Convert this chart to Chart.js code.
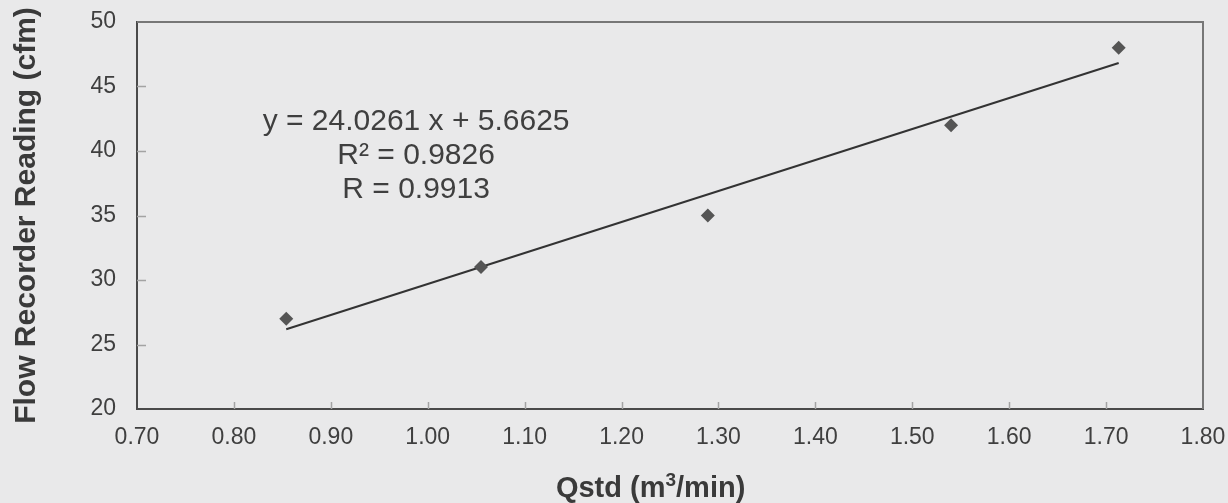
<!DOCTYPE html>
<html>
<head>
<meta charset="utf-8">
<script src="https://cdn.jsdelivr.net/npm/chart.js@4.4.1/dist/chart.umd.min.js"></script>
<style>
    html, body { margin: 0; padding: 0; background: #e9e9ea; }
    canvas { display: block; }
</style>
</head>
<body>
<canvas id="chart" width="1228" height="503"></canvas>
<script>
const qstd = [0.854, 1.055, 1.289, 1.540, 1.713];
const flowReading = [27, 31, 35, 42, 48];

// 近似直線の両端
const trendX = [0.854, 1.713];
const trendY = [26.18, 46.82];

// 目盛り
const xTicks = [0.70, 0.80, 0.90, 1.00, 1.10, 1.20, 1.30, 1.40, 1.50, 1.60, 1.70, 1.80];
const yTicks = [20, 25, 30, 35, 40, 45, 50];

// 回帰式のテキスト
const equationLines = ['y = 24.0261 x + 5.6625', 'R² = 0.9826', 'R = 0.9913'];

const FONT = '"Liberation Sans", Arial, Helvetica, sans-serif';
const TEXT_COLOR = '#3f3f3f';

// 背景を塗る
const backgroundPlugin = {
    id: 'background',
    beforeDraw(chart) {
        const ctx = chart.ctx;
        ctx.save();
        ctx.fillStyle = '#e9e9ea';
        ctx.fillRect(0, 0, chart.width, chart.height);
        ctx.restore();
    }
};

// 上と右の枠線、内側の目盛り線
const framePlugin = {
    id: 'frame',
    beforeDatasetsDraw(chart) {
        const { ctx, chartArea: a, scales } = chart;
        ctx.save();
        ctx.strokeStyle = '#a3a3a3';
        ctx.lineWidth = 1.5;
        xTicks.slice(1, -1).forEach(v => {
            const px = Math.round(scales.x.getPixelForValue(v)) + 0.5;
            ctx.beginPath();
            ctx.moveTo(px, a.bottom);
            ctx.lineTo(px, a.bottom - 7);
            ctx.stroke();
        });
        yTicks.slice(1, -1).forEach(v => {
            const py = Math.round(scales.y.getPixelForValue(v)) + 0.5;
            ctx.beginPath();
            ctx.moveTo(a.left, py);
            ctx.lineTo(a.left + 9, py);
            ctx.stroke();
        });
        ctx.strokeStyle = '#777777';
        ctx.lineWidth = 2;
        ctx.beginPath();
        ctx.moveTo(a.left, a.top);
        ctx.lineTo(a.right, a.top);
        ctx.lineTo(a.right, a.bottom);
        ctx.stroke();
        ctx.restore();
    }
};

// 回帰式とX軸タイトル（上付き文字）
const textPlugin = {
    id: 'texts',
    afterDraw(chart) {
        const { ctx, scales } = chart;
        ctx.save();
        ctx.fillStyle = TEXT_COLOR;
        ctx.font = `30px ${FONT}`;
        ctx.textAlign = 'center';
        ctx.textBaseline = 'alphabetic';
        const cx = scales.x.getPixelForValue(0.988);
        const baseY = scales.y.getPixelForValue(41.63);
        equationLines.forEach((line, i) => {
            ctx.fillText(line, cx, baseY + i * 34);
        });

        // Qstd (m³/min)
        const parts = [
            { t: 'Qstd (m', size: 29, rise: 0 },
            { t: '3', size: 19, rise: 11 },
            { t: '/min)', size: 29, rise: 0 }
        ];
        let total = 0;
        parts.forEach(p => {
            ctx.font = `bold ${p.size}px ${FONT}`;
            p.w = ctx.measureText(p.t).width;
            total += p.w;
        });
        let x = scales.x.getPixelForValue(1.230) - total / 2;
        const titleBase = 497;
        ctx.textAlign = 'left';
        ctx.fillStyle = '#3a3a3a';
        parts.forEach(p => {
            ctx.font = `bold ${p.size}px ${FONT}`;
            ctx.fillText(p.t, x, titleBase - p.rise);
            x += p.w;
        });
        ctx.restore();
    }
};

const ctx = document.getElementById('chart').getContext('2d');
new Chart(ctx, {
    type: 'scatter',
    data: {
        datasets: [
            {
                label: 'Flow Recorder Reading',
                data: qstd.map((q, i) => ({ x: q, y: flowReading[i] })),
                pointStyle: 'rectRot',
                pointRadius: 7,
                pointHoverRadius: 7,
                backgroundColor: '#555555',
                borderColor: '#555555',
                borderWidth: 0,
                order: 1
            },
            {
                label: 'Linear',
                type: 'line',
                data: trendX.map((q, i) => ({ x: q, y: trendY[i] })),
                borderColor: '#333333',
                borderWidth: 2,
                pointRadius: 0,
                fill: false,
                tension: 0,
                order: 2
            }
        ]
    },
    options: {
        responsive: false,
        animation: false,
        devicePixelRatio: 1,
        layout: {
            padding: { top: 22, right: 25, left: 0, bottom: 0 }
        },
        plugins: {
            legend: { display: false },
            tooltip: { enabled: false }
        },
        scales: {
            x: {
                type: 'linear',
                min: 0.7,
                max: 1.8,
                afterBuildTicks: scale => {
                    scale.ticks = xTicks.map(v => ({ value: v }));
                },
                afterFit: scale => {
                    scale.height = 94;
                    scale.paddingLeft = 0;
                    scale.paddingRight = 0;
                },
                grid: { display: false, drawTicks: false },
                border: { display: true, color: '#4a4a4a', width: 2 },
                ticks: {
                    padding: 15,
                    color: TEXT_COLOR,
                    font: { family: FONT, size: 23 },
                    maxRotation: 0,
                    autoSkip: false,
                    callback: v => v.toFixed(2)
                }
            },
            y: {
                type: 'linear',
                min: 20,
                max: 50,
                afterBuildTicks: scale => {
                    scale.ticks = yTicks.map(v => ({ value: v }));
                },
                afterFit: scale => {
                    scale.width = 137;
                    scale.paddingTop = 0;
                    scale.paddingBottom = 0;
                },
                grid: { display: false, drawTicks: false },
                border: { display: true, color: '#4a4a4a', width: 2 },
                ticks: {
                    padding: 21,
                    color: TEXT_COLOR,
                    font: { family: FONT, size: 23 }
                },
                title: {
                    display: true,
                    text: 'Flow Recorder Reading (cfm)',
                    color: '#3a3a3a',
                    font: { family: FONT, size: 30, weight: 'bold' },
                    padding: { top: 9, bottom: 0 }
                }
            }
        }
    },
    plugins: [backgroundPlugin, framePlugin, textPlugin]
});
</script>
</body>
</html>
